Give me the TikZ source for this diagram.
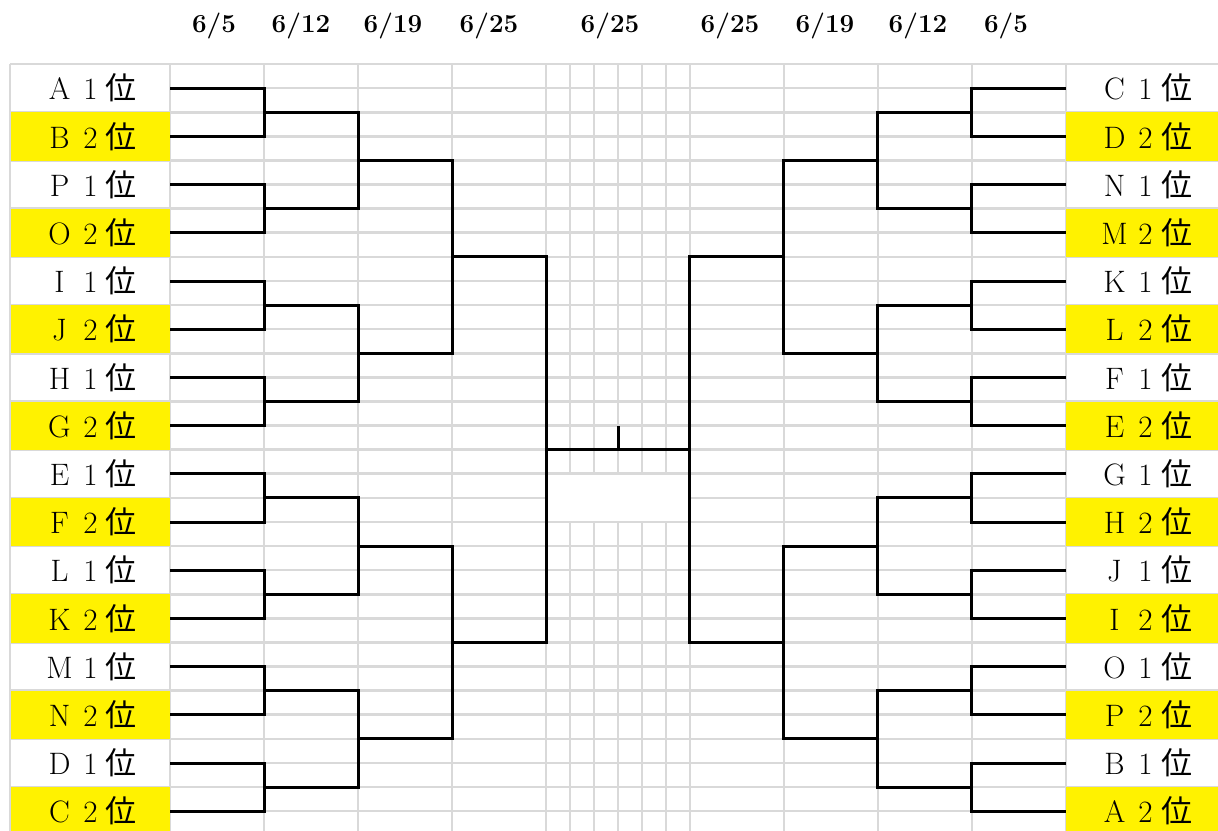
\documentclass[tikz,border=0pt]{standalone}
\usepackage{fontspec}
\usepackage{tikz}
\usetikzlibrary{calc}
\usetikzlibrary{positioning}
\newfontfamily\jpfont{Noto Sans CJK JP}
\definecolor{gridgray}{RGB}{217,217,217}
\newcommand{\teamlabel}[2]{\makebox[1em]{#1}\makebox[1em]{#2}\makebox[1em]{\jpfont 位}}

\begin{document}
\begin{tikzpicture}[x=1pt,y=-1pt,
	  team/.style={rectangle,minimum width=159pt,minimum height=48.2pt,inner sep=0pt,font=\fontsize{31}{36}\selectfont},
	  runnerup/.style={fill=yellow},
	  date/.style={font=\fontsize{26}{30}\selectfont\bfseries},
	  grid line/.style={draw=gridgray,line width=2.6pt},
	  bracket/.style={draw=black,line width=3pt}]

	\useasboundingbox (0,0) rectangle (1218,830);
	\clip (0,0) rectangle (1218,830);

	% sheet grid
	\foreach \gx in {10,170,264,358,452,546,570,594,618,642,666,690,784,878,972,1066}
	  \draw[grid line] (\gx,64) -- (\gx,835);
	\foreach \k in {0,...,32}
	  \draw[grid line] (170,64+24.1*\k) -- (1066,64+24.1*\k);
	\foreach \k in {0,...,16} {
	  \draw[grid line] (10,64+48.2*\k) -- (170,64+48.2*\k);
	  \draw[grid line] (1066,64+48.2*\k) -- (1218,64+48.2*\k);
	}
	\fill[white] (547.5,475) rectangle (688.5,520.6);

	% dates
	\node[date] (day1) at (214,26) {6/5};
	\node[date] (day2) at (301,26) {6/12};
	\node[date] (day3) at (393,26) {6/19};
	\node[date] (day4) at (489,26) {6/25};
	\node[date] (day5) at (610,26) {6/25};
	\node[date] (day6) at (730,26) {6/25};
	\node[date] (day7) at (825,26) {6/19};
	\node[date] (day8) at (918,26) {6/12};
	\node[date] (day9) at (1006,26) {6/5};

	% left block
	\node[team] (a1) at (90.5,88.2) {\teamlabel{A}{1}};
	\node[team,runnerup] (b2) at ($ (a1) + (0,48.2) $) {\teamlabel{B}{2}};
	\node[team] (p1) at ($ (b2) + (0,48.2) $) {\teamlabel{P}{1}};
	\node[team,runnerup] (o2) at ($ (p1) + (0,48.2) $) {\teamlabel{O}{2}};
	\node[team] (i1) at ($ (o2) + (0,48.2) $) {\teamlabel{I}{1}};
	\node[team,runnerup] (j2) at ($ (i1) + (0,48.2) $) {\teamlabel{J}{2}};
	\node[team] (h1) at ($ (j2) + (0,48.2) $) {\teamlabel{H}{1}};
	\node[team,runnerup] (g2) at ($ (h1) + (0,48.2) $) {\teamlabel{G}{2}};
	\node[team] (e1) at ($ (g2) + (0,48.2) $) {\teamlabel{E}{1}};
	\node[team,runnerup] (f2) at ($ (e1) + (0,48.2) $) {\teamlabel{F}{2}};
	\node[team] (l1) at ($ (f2) + (0,48.2) $) {\teamlabel{L}{1}};
	\node[team,runnerup] (k2) at ($ (l1) + (0,48.2) $) {\teamlabel{K}{2}};
	\node[team] (m1) at ($ (k2) + (0,48.2) $) {\teamlabel{M}{1}};
	\node[team,runnerup] (n2) at ($ (m1) + (0,48.2) $) {\teamlabel{N}{2}};
	\node[team] (d1) at ($ (n2) + (0,48.2) $) {\teamlabel{D}{1}};
	\node[team,runnerup] (c2) at ($ (d1) + (0,48.2) $) {\teamlabel{C}{2}};

	% right block
	\node[team] (c1) at (1145.5,88.2) {\teamlabel{C}{1}};
	\node[team,runnerup] (d2) at ($ (c1) + (0,48.2) $) {\teamlabel{D}{2}};
	\node[team] (n1) at ($ (d2) + (0,48.2) $) {\teamlabel{N}{1}};
	\node[team,runnerup] (m2) at ($ (n1) + (0,48.2) $) {\teamlabel{M}{2}};
	\node[team] (k1) at ($ (m2) + (0,48.2) $) {\teamlabel{K}{1}};
	\node[team,runnerup] (l2) at ($ (k1) + (0,48.2) $) {\teamlabel{L}{2}};
	\node[team] (f1) at ($ (l2) + (0,48.2) $) {\teamlabel{F}{1}};
	\node[team,runnerup] (e2) at ($ (f1) + (0,48.2) $) {\teamlabel{E}{2}};
	\node[team] (g1) at ($ (e2) + (0,48.2) $) {\teamlabel{G}{1}};
	\node[team,runnerup] (h2) at ($ (g1) + (0,48.2) $) {\teamlabel{H}{2}};
	\node[team] (j1) at ($ (h2) + (0,48.2) $) {\teamlabel{J}{1}};
	\node[team,runnerup] (i2) at ($ (j1) + (0,48.2) $) {\teamlabel{I}{2}};
	\node[team] (o1) at ($ (i2) + (0,48.2) $) {\teamlabel{O}{1}};
	\node[team,runnerup] (p2) at ($ (o1) + (0,48.2) $) {\teamlabel{P}{2}};
	\node[team] (b1) at ($ (p2) + (0,48.2) $) {\teamlabel{B}{1}};
	\node[team,runnerup] (a2) at ($ (b1) + (0,48.2) $) {\teamlabel{A}{2}};

	% 6/5 junctions
	\coordinate (ab) at ($ (a1.east)!.5!(b2.east) + (94,0) $);
	\coordinate (po) at ($ (p1.east)!.5!(o2.east) + (94,0) $);
	\coordinate (ij) at ($ (i1.east)!.5!(j2.east) + (94,0) $);
	\coordinate (hg) at ($ (h1.east)!.5!(g2.east) + (94,0) $);
	\coordinate (ef) at ($ (e1.east)!.5!(f2.east) + (94,0) $);
	\coordinate (lk) at ($ (l1.east)!.5!(k2.east) + (94,0) $);
	\coordinate (mn) at ($ (m1.east)!.5!(n2.east) + (94,0) $);
	\coordinate (dc) at ($ (d1.east)!.5!(c2.east) + (94,0) $);
	\coordinate (cd) at ($ (c1.west)!.5!(d2.west) + (-94,0) $);
	\coordinate (nm) at ($ (n1.west)!.5!(m2.west) + (-94,0) $);
	\coordinate (kl) at ($ (k1.west)!.5!(l2.west) + (-94,0) $);
	\coordinate (fe) at ($ (f1.west)!.5!(e2.west) + (-94,0) $);
	\coordinate (gh) at ($ (g1.west)!.5!(h2.west) + (-94,0) $);
	\coordinate (ji) at ($ (j1.west)!.5!(i2.west) + (-94,0) $);
	\coordinate (op) at ($ (o1.west)!.5!(p2.west) + (-94,0) $);
	\coordinate (ba) at ($ (b1.west)!.5!(a2.west) + (-94,0) $);

	% 6/12 and 6/19 junctions
	\coordinate (abpo) at ($ (ab)!.5!(po) + (94,0) $);
	\coordinate (ijhg) at ($ (ij)!.5!(hg) + (94,0) $);
	\coordinate (eflk) at ($ (ef)!.5!(lk) + (94,0) $);
	\coordinate (mndc) at ($ (mn)!.5!(dc) + (94,0) $);
	\coordinate (cdnm) at ($ (cd)!.5!(nm) + (-94,0) $);
	\coordinate (klfe) at ($ (kl)!.5!(fe) + (-94,0) $);
	\coordinate (ghji) at ($ (gh)!.5!(ji) + (-94,0) $);
	\coordinate (opba) at ($ (op)!.5!(ba) + (-94,0) $);
	\coordinate (lt) at ($ (abpo)!.5!(ijhg) + (94,0) $);
	\coordinate (lb) at ($ (eflk)!.5!(mndc) + (94,0) $);
	\coordinate (rt) at ($ (cdnm)!.5!(klfe) + (-94,0) $);
	\coordinate (rb) at ($ (ghji)!.5!(opba) + (-94,0) $);

	% 6/25 junctions
	\coordinate (ls) at ($ (lt)!.5!(lb) + (94,0) $);
	\coordinate (rs) at ($ (rt)!.5!(rb) + (-94,0) $);
	\coordinate (final) at ($ (ls)!.5!(rs) $);
	\coordinate (champ) at ($ (final) + (0,-24.1) $);

	\draw[bracket] (a1.east) -| (ab) |- (b2.east);
	\draw[bracket] (p1.east) -| (po) |- (o2.east);
	\draw[bracket] (i1.east) -| (ij) |- (j2.east);
	\draw[bracket] (h1.east) -| (hg) |- (g2.east);
	\draw[bracket] (e1.east) -| (ef) |- (f2.east);
	\draw[bracket] (l1.east) -| (lk) |- (k2.east);
	\draw[bracket] (m1.east) -| (mn) |- (n2.east);
	\draw[bracket] (d1.east) -| (dc) |- (c2.east);
	\draw[bracket] (c1.west) -| (cd) |- (d2.west);
	\draw[bracket] (n1.west) -| (nm) |- (m2.west);
	\draw[bracket] (k1.west) -| (kl) |- (l2.west);
	\draw[bracket] (f1.west) -| (fe) |- (e2.west);
	\draw[bracket] (g1.west) -| (gh) |- (h2.west);
	\draw[bracket] (j1.west) -| (ji) |- (i2.west);
	\draw[bracket] (o1.west) -| (op) |- (p2.west);
	\draw[bracket] (b1.west) -| (ba) |- (a2.west);

	\draw[bracket] (ab) -| (abpo) |- (po);
	\draw[bracket] (ij) -| (ijhg) |- (hg);
	\draw[bracket] (ef) -| (eflk) |- (lk);
	\draw[bracket] (mn) -| (mndc) |- (dc);
	\draw[bracket] (cd) -| (cdnm) |- (nm);
	\draw[bracket] (kl) -| (klfe) |- (fe);
	\draw[bracket] (gh) -| (ghji) |- (ji);
	\draw[bracket] (op) -| (opba) |- (ba);

	\draw[bracket] (abpo) -| (lt) |- (ijhg);
	\draw[bracket] (eflk) -| (lb) |- (mndc);
	\draw[bracket] (cdnm) -| (rt) |- (klfe);
	\draw[bracket] (ghji) -| (rb) |- (opba);

	\draw[bracket] (lt) -| (ls) |- (lb);
	\draw[bracket] (rt) -| (rs) |- (rb);
	\draw[bracket] (ls) -- (rs);
	\draw[bracket] (final) -- (champ);
\end{tikzpicture}
\end{document}
